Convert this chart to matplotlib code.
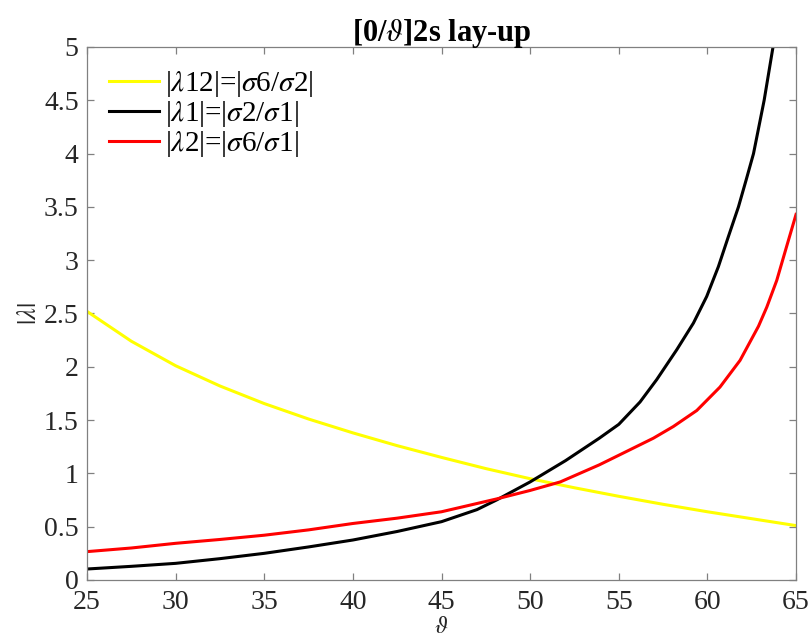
import matplotlib
matplotlib.use('Agg')
import matplotlib.pyplot as plt

plt.rcParams['font.family'] = 'Liberation Serif'
plt.rcParams['mathtext.fontset'] = 'stix'

# |lambda12| = |sigma6/sigma2|
theta_12 = [25, 27.5, 30, 32.5, 35, 37.5, 40, 42.5, 45, 47.5, 50, 52.5, 55, 57.5, 60, 62.5, 65]
lam_12 = [2.52, 2.24, 2.01, 1.82, 1.655, 1.51, 1.38, 1.26, 1.15, 1.045, 0.95, 0.865, 0.785, 0.71, 0.64,
          0.575, 0.51]

# |lambda1| = |sigma2/sigma1|
theta_1 = [25, 27.5, 30, 32.5, 35, 37.5, 40, 42.5, 45, 47, 48.1, 50, 52, 53.9, 55, 56.2, 57.14,
           58.27, 59.21, 59.96, 60.62, 61.18, 61.75, 62.18, 62.6, 63.2, 63.7]
lam_1 = [0.103, 0.128, 0.156, 0.20, 0.25, 0.31, 0.375, 0.455, 0.547, 0.66, 0.75, 0.92, 1.12, 1.33, 1.46,
         1.67, 1.88, 2.16, 2.41, 2.66, 2.94, 3.22, 3.50, 3.75, 4.0, 4.5, 5.0]

# |lambda2| = |sigma6/sigma1|
theta_2 = [25, 27.5, 30, 32.5, 35, 37.5, 40, 42.5, 45, 48.1, 50, 51.7, 53.9, 55, 56.95, 58.08,
           59.4, 60.71, 61.84, 62.88, 63.35, 63.91, 64.47, 65]
lam_2 = [0.266, 0.30, 0.344, 0.38, 0.42, 0.47, 0.53, 0.58, 0.64, 0.76, 0.84, 0.92, 1.08, 1.17, 1.33, 1.44,
         1.59, 1.81, 2.06, 2.38, 2.56, 2.81, 3.13, 3.43]

labels = [r'|$\lambda$12|=|$\sigma$6/$\sigma$2|',
          r'|$\lambda$1|=|$\sigma$2/$\sigma$1|',
          r'|$\lambda$2|=|$\sigma$6/$\sigma$1|']

fig = plt.figure(figsize=(8.09, 6.42), dpi=100)
ax = fig.add_axes([0.1075, 0.0966, 0.8765, 0.8302])

ax.plot(theta_12, lam_12, color='#ffff00', lw=2.2, label=labels[0])
ax.plot(theta_1, lam_1, color='black', lw=2.2, label=labels[1])
ax.plot(theta_2, lam_2, color='#ff0000', lw=2.2, label=labels[2])

ax.set_xlim(25, 65)
ax.set_ylim(0, 5)
ax.set_xticks(range(25, 66, 5))
ax.set_yticks([0, 0.5, 1, 1.5, 2, 2.5, 3, 3.5, 4, 4.5, 5])
ax.set_yticklabels(['0', '0.5', '1', '1.5', '2', '2.5', '3', '3.5', '4', '4.5', '5'])

for s in ax.spines.values():
    s.set_color('#808080')
    s.set_linewidth(0.9)
ax.tick_params(direction='in', top=True, right=True, length=5, width=0.9,
               color='#808080', labelsize=20, labelcolor='#262626')
ax.tick_params(axis='x', pad=7)
ax.tick_params(axis='y', pad=6)

ax.set_xlabel(r'$\vartheta$', fontsize=17, color='#262626', labelpad=2)
ax.set_ylabel(r'$|\lambda|$', fontsize=19, color='#262626', labelpad=2)
ax.set_title(r'[0/$\vartheta$]2s lay-up', fontsize=22, fontweight='bold', pad=4)

ax.legend(loc='upper left', frameon=False, fontsize=21, handlelength=1.72,
          handletextpad=0.2, labelspacing=0.0, borderaxespad=0.35)

fig.savefig('out.png', dpi=100)
